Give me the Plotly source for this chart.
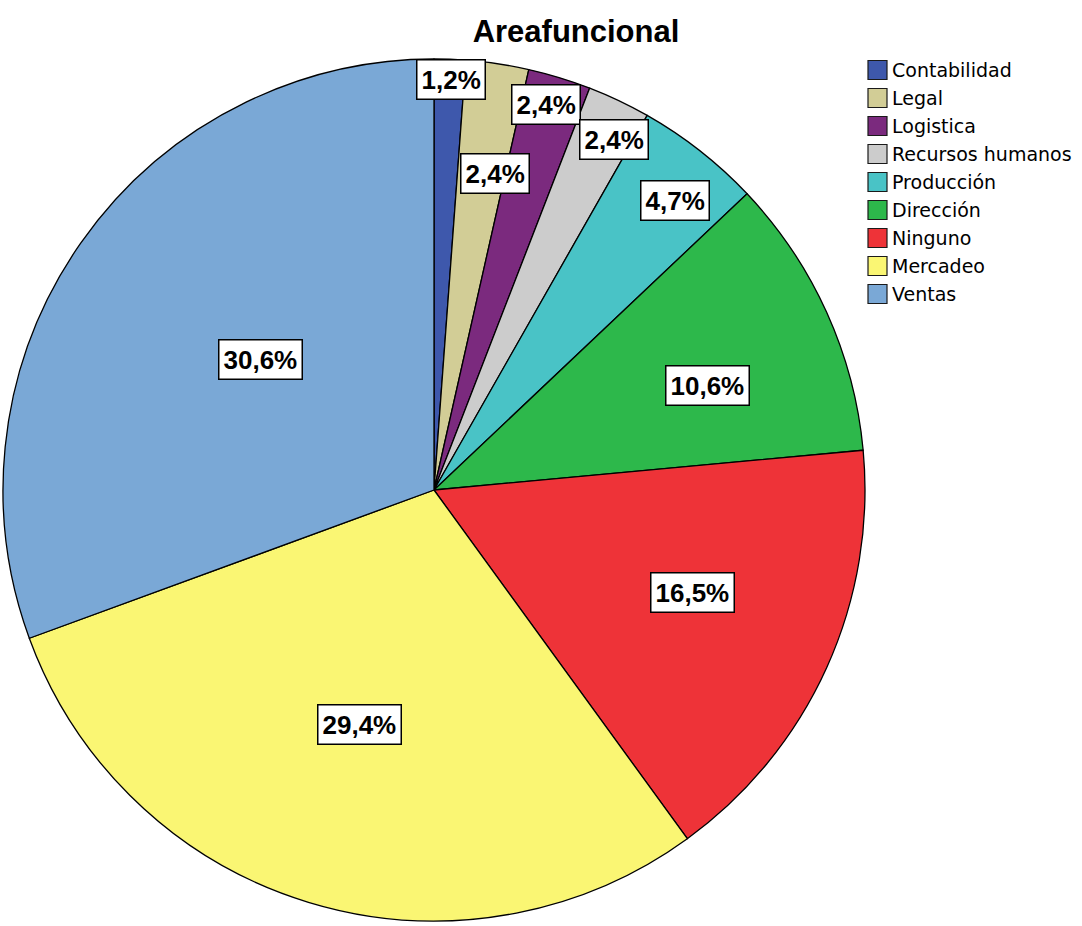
import math
import plotly.graph_objects as go

# Frequencies per functional area (n = 85)
areas = ["Contabilidad", "Legal", "Logistica", "Recursos humanos", "Producción",
         "Dirección", "Ninguno", "Mercadeo", "Ventas"]
counts = [1, 2, 2, 2, 4, 9, 14, 25, 26]
colors = ["#3E58AC", "#D2CD96", "#7B2A7E", "#CCCCCC", "#49C3C6",
          "#2DB84B", "#EE3338", "#FAF673", "#7AA8D6"]

# Placement of each percentage box: fraction of the radius and angular nudge (deg)
label_radius = [0.954, 0.748, 0.932, 0.915, 0.874, 0.680, 0.645, 0.571, 0.503]
label_nudge = [0.3, 2.4, -0.8, 1.8, 1.6, 3.4, -2.8, 0.8, 2.0]

W, H = 1082, 926
CX, CY, R = 434, 490, 431  # pie centre and radius in pixels


def px_x(x):
    return x / W


def px_y(y):
    return 1 - y / H


total = sum(counts)
pcts = [c / total * 100 for c in counts]
labels_txt = [f"{p:.1f}".replace(".", ",") + "%" for p in pcts]

fig = go.Figure(go.Pie(
    labels=areas,
    values=counts,
    sort=False,
    direction="clockwise",
    rotation=0,
    marker=dict(colors=colors, line=dict(color="#000000", width=1.3)),
    textinfo="none",
    hoverinfo="label+percent",
    domain=dict(x=[px_x(CX - R), px_x(CX + R)], y=[px_y(CY + R), px_y(CY - R)]),
    showlegend=False,
))

annotations = []
cum = 0
for cnt, txt, rf, nd in zip(counts, labels_txt, label_radius, label_nudge):
    mid = (cum + cnt / 2) / total * 2 * math.pi + math.radians(nd)
    cum += cnt
    x = CX + rf * R * math.sin(mid)
    y = CY - rf * R * math.cos(mid)
    annotations.append(dict(
        x=px_x(x), y=px_y(y), xref="paper", yref="paper",
        text=txt, showarrow=False, xanchor="center", yanchor="middle",
        font=dict(family="Liberation Sans, Arial, sans-serif",
                  size=26, color="#000000", weight="bold"),
        bgcolor="#FFFFFF", bordercolor="#000000", borderwidth=1.5, borderpad=4,
    ))

# Legend drawn as swatches with text to the right of the pie
shapes = []
LX, LY0, STEP, SQ = 868, 70, 28, 19
for i, (name, col) in enumerate(zip(areas, colors)):
    yc = LY0 + i * STEP
    shapes.append(dict(
        type="rect", xref="paper", yref="paper",
        x0=px_x(LX), x1=px_x(LX + SQ), y0=px_y(yc + SQ / 2), y1=px_y(yc - SQ / 2),
        fillcolor=col, line=dict(color="#1A1A1A", width=1.2),
    ))
    annotations.append(dict(
        x=px_x(LX + SQ + 3), y=px_y(yc), xref="paper", yref="paper",
        text=name, showarrow=False, xanchor="left", yanchor="middle",
        font=dict(family="DejaVu Sans, sans-serif", size=19, color="#000000"),
    ))

fig.update_layout(
    width=W, height=H,
    margin=dict(l=0, r=0, t=0, b=0),
    paper_bgcolor="#FFFFFF",
    plot_bgcolor="#FFFFFF",
    title=dict(text="Areafuncional", x=px_x(576), y=px_y(31), xanchor="center", yanchor="middle",
               font=dict(family="Liberation Sans, Arial, sans-serif", size=31, color="#000000",
                         weight="bold")),
    annotations=annotations,
    shapes=shapes,
)

fig.write_html("out.html")
